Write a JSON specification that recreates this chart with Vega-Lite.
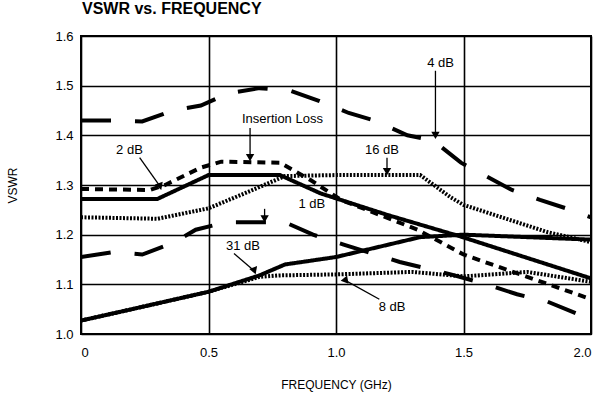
{
  "$schema": "https://vega.github.io/schema/vega-lite/v6.json",
  "width": 510,
  "height": 298,
  "autosize": {"type": "none"},
  "padding": {"left": 81, "top": 36, "right": 9, "bottom": 68},
  "background": "white",
  "title": {"text": "VSWR vs. FREQUENCY", "anchor": "start", "frame": "group", "offset": 13, "fontSize": 16, "fontWeight": 900, "font": "Liberation Sans", "color": "black", "dx": 1},
  "config": {
    "view": {"stroke": "black", "strokeWidth": 2},
    "axis": {"labelFont": "Liberation Sans", "titleFont": "Liberation Sans", "labelColor": "black", "titleColor": "black", "labelFontSize": 13, "titleFontSize": 12, "titleFontWeight": "normal", "grid": true, "gridColor": "black", "gridWidth": 1.6, "gridOpacity": 1, "ticks": false, "domain": false}
  },
  "datasets": {
    "curves": [
      {"s": "4 dB", "f": 0, "v": 1.43}, {"s": "4 dB", "f": 0.13, "v": 1.43}, {"s": "4 dB", "f": 0.24, "v": 1.428}, {"s": "4 dB", "f": 0.36, "v": 1.45}, {"s": "4 dB", "f": 0.47, "v": 1.46}, {"s": "4 dB", "f": 0.58, "v": 1.485}, {"s": "4 dB", "f": 0.7, "v": 1.495}, {"s": "4 dB", "f": 0.82, "v": 1.49}, {"s": "4 dB", "f": 0.93, "v": 1.47}, {"s": "4 dB", "f": 1.05, "v": 1.445}, {"s": "4 dB", "f": 1.15, "v": 1.43}, {"s": "4 dB", "f": 1.28, "v": 1.4}, {"s": "4 dB", "f": 1.38, "v": 1.39}, {"s": "4 dB", "f": 1.49, "v": 1.345}, {"s": "4 dB", "f": 1.58, "v": 1.32}, {"s": "4 dB", "f": 1.69, "v": 1.29}, {"s": "4 dB", "f": 1.8, "v": 1.27}, {"s": "4 dB", "f": 1.92, "v": 1.25}, {"s": "4 dB", "f": 2.0, "v": 1.235},
      {"s": "1 dB", "f": 0, "v": 1.155}, {"s": "1 dB", "f": 0.13, "v": 1.165}, {"s": "1 dB", "f": 0.24, "v": 1.16}, {"s": "1 dB", "f": 0.36, "v": 1.183}, {"s": "1 dB", "f": 0.45, "v": 1.21}, {"s": "1 dB", "f": 0.57, "v": 1.225}, {"s": "1 dB", "f": 0.8, "v": 1.225}, {"s": "1 dB", "f": 0.91, "v": 1.2}, {"s": "1 dB", "f": 1.03, "v": 1.18}, {"s": "1 dB", "f": 1.25, "v": 1.145}, {"s": "1 dB", "f": 1.45, "v": 1.12}, {"s": "1 dB", "f": 1.59, "v": 1.1}, {"s": "1 dB", "f": 1.71, "v": 1.08}, {"s": "1 dB", "f": 1.83, "v": 1.065}, {"s": "1 dB", "f": 1.95, "v": 1.04}, {"s": "1 dB", "f": 2.0, "v": 1.035},
      {"s": "Insertion Loss", "f": 0, "v": 1.272}, {"s": "Insertion Loss", "f": 0.3, "v": 1.272}, {"s": "Insertion Loss", "f": 0.5, "v": 1.32}, {"s": "Insertion Loss", "f": 0.78, "v": 1.32}, {"s": "Insertion Loss", "f": 0.94, "v": 1.283}, {"s": "Insertion Loss", "f": 1.2, "v": 1.24}, {"s": "Insertion Loss", "f": 1.49, "v": 1.196}, {"s": "Insertion Loss", "f": 2.0, "v": 1.112},
      {"s": "2 dB", "f": 0, "v": 1.292}, {"s": "2 dB", "f": 0.27, "v": 1.29}, {"s": "2 dB", "f": 0.33, "v": 1.3}, {"s": "2 dB", "f": 0.47, "v": 1.335}, {"s": "2 dB", "f": 0.55, "v": 1.347}, {"s": "2 dB", "f": 0.78, "v": 1.345}, {"s": "2 dB", "f": 0.9, "v": 1.31}, {"s": "2 dB", "f": 1.02, "v": 1.27}, {"s": "2 dB", "f": 1.32, "v": 1.21}, {"s": "2 dB", "f": 1.5, "v": 1.16}, {"s": "2 dB", "f": 1.75, "v": 1.115}, {"s": "2 dB", "f": 2.0, "v": 1.07},
      {"s": "16 dB", "f": 0, "v": 1.235}, {"s": "16 dB", "f": 0.3, "v": 1.232}, {"s": "16 dB", "f": 0.5, "v": 1.253}, {"s": "16 dB", "f": 0.65, "v": 1.285}, {"s": "16 dB", "f": 0.8, "v": 1.318}, {"s": "16 dB", "f": 1.0, "v": 1.32}, {"s": "16 dB", "f": 1.33, "v": 1.32}, {"s": "16 dB", "f": 1.45, "v": 1.275}, {"s": "16 dB", "f": 1.5, "v": 1.26}, {"s": "16 dB", "f": 1.65, "v": 1.235}, {"s": "16 dB", "f": 1.83, "v": 1.205}, {"s": "16 dB", "f": 2.0, "v": 1.185},
      {"s": "31 dB", "f": 0, "v": 1.027}, {"s": "31 dB", "f": 0.2, "v": 1.05}, {"s": "31 dB", "f": 0.5, "v": 1.085}, {"s": "31 dB", "f": 0.7, "v": 1.118}, {"s": "31 dB", "f": 0.8, "v": 1.14}, {"s": "31 dB", "f": 1.0, "v": 1.155}, {"s": "31 dB", "f": 1.33, "v": 1.195}, {"s": "31 dB", "f": 1.5, "v": 1.2}, {"s": "31 dB", "f": 2.0, "v": 1.19},
      {"s": "8 dB", "f": 0, "v": 1.027}, {"s": "8 dB", "f": 0.2, "v": 1.05}, {"s": "8 dB", "f": 0.5, "v": 1.085}, {"s": "8 dB", "f": 0.7, "v": 1.115}, {"s": "8 dB", "f": 0.78, "v": 1.118}, {"s": "8 dB", "f": 1.0, "v": 1.12}, {"s": "8 dB", "f": 1.3, "v": 1.125}, {"s": "8 dB", "f": 1.5, "v": 1.116}, {"s": "8 dB", "f": 1.75, "v": 1.125}, {"s": "8 dB", "f": 2.0, "v": 1.105}
    ],
    "labels": [
      {"t": "Insertion Loss", "f": 0.79, "v": 1.433},
      {"t": "4 dB", "f": 1.41, "v": 1.545},
      {"t": "2 dB", "f": 0.19, "v": 1.37},
      {"t": "16 dB", "f": 1.18, "v": 1.37},
      {"t": "1 dB", "f": 0.905, "v": 1.262},
      {"t": "31 dB", "f": 0.635, "v": 1.177},
      {"t": "8 dB", "f": 1.22, "v": 1.054}
    ],
    "arrows": [
      {"a": "Insertion Loss", "f": 0.663, "v": 1.415, "f2": 0.663, "v2": 1.355, "dir": "down"},
      {"a": "4 dB", "f": 1.39, "v": 1.53, "f2": 1.39, "v2": 1.4, "dir": "down"},
      {"a": "2 dB", "f": 0.23, "v": 1.355, "f2": 0.31, "v2": 1.297, "dir": "dr"},
      {"a": "16 dB", "f": 1.2, "v": 1.355, "f2": 1.2, "v2": 1.327, "dir": "down"},
      {"a": "1 dB", "f": 0.72, "v": 1.252, "f2": 0.72, "v2": 1.232, "dir": "down"},
      {"a": "31 dB", "f": 0.6, "v": 1.162, "f2": 0.68, "v2": 1.127, "dir": "dr"},
      {"a": "8 dB", "f": 1.17, "v": 1.07, "f2": 1.04, "v2": 1.107, "dir": "ul"}
    ]
  },
  "layer": [
    {
      "data": {"name": "curves"},
      "mark": {"type": "line", "color": "black", "clip": true},
      "encoding": {
        "x": {"field": "f", "type": "quantitative", "scale": {"domain": [0, 2]}, "axis": {"values": [0, 0.5, 1, 1.5, 2], "labelExpr": "datum.value == 0 ? '0' : format(datum.value, '.1f')", "title": "FREQUENCY (GHz)", "labelPadding": 12, "titlePadding": 20}},
        "y": {"field": "v", "type": "quantitative", "scale": {"domain": [1.0, 1.6]}, "axis": {"values": [1.0, 1.1, 1.2, 1.3, 1.4, 1.5, 1.6], "format": ".1f", "title": "VSWR", "labelPadding": 8, "titlePadding": 35}},
        "detail": {"field": "s"},
        "strokeDash": {"field": "s", "type": "nominal", "legend": null, "scale": {"domain": ["4 dB", "1 dB", "Insertion Loss", "2 dB", "16 dB", "31 dB", "8 dB"], "range": [[30, 24], [30, 24], [1, 0], [8, 6], [2, 1.5], [1, 0], [2, 1.5]]}},
        "strokeWidth": {"field": "s", "type": "nominal", "legend": null, "scale": {"domain": ["4 dB", "1 dB", "Insertion Loss", "2 dB", "16 dB", "31 dB", "8 dB"], "range": [4, 4, 3.2, 3.5, 1.6, 3.5, 1.6]}}
      }
    },
    {
      "data": {"name": "arrows"},
      "mark": {"type": "rule", "color": "black", "strokeWidth": 1.3},
      "encoding": {
        "x": {"field": "f", "type": "quantitative"},
        "y": {"field": "v", "type": "quantitative"},
        "x2": {"field": "f2"},
        "y2": {"field": "v2"}
      }
    },
    {
      "data": {"name": "arrows"},
      "mark": {"type": "point", "shape": "triangle-up", "filled": true, "color": "black", "opacity": 1, "size": 70},
      "encoding": {
        "x": {"field": "f2", "type": "quantitative"},
        "y": {"field": "v2", "type": "quantitative"},
        "angle": {"field": "dir", "type": "nominal", "legend": null, "scale": {"domain": ["down", "dr", "ul"], "range": [180, 140, 300]}}
      }
    },
    {
      "data": {"name": "labels"},
      "mark": {"type": "text", "font": "Liberation Sans", "fontSize": 13, "color": "black", "align": "center", "baseline": "middle"},
      "encoding": {
        "x": {"field": "f", "type": "quantitative"},
        "y": {"field": "v", "type": "quantitative"},
        "text": {"field": "t"}
      }
    }
  ]
}
